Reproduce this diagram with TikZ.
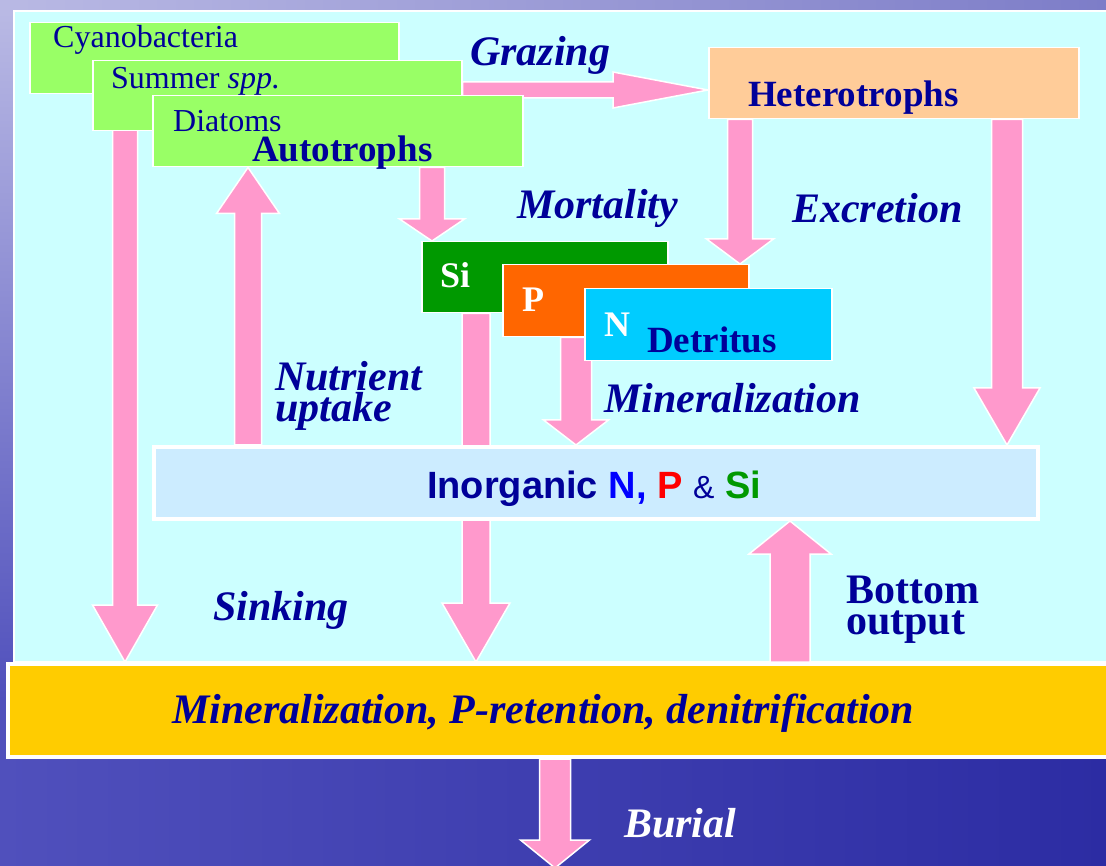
\documentclass[tikz,border=0pt]{standalone}
\usepackage{fontspec}
\setmainfont{Liberation Serif}
\newfontfamily\arialfont{Liberation Sans}
\usetikzlibrary{calc}
\usetikzlibrary{backgrounds}

\definecolor{navyblue}{RGB}{0,0,153}
\definecolor{arrowpink}{RGB}{255,153,204}
\definecolor{algaegreen}{RGB}{153,255,102}
\definecolor{heteroorange}{RGB}{255,204,153}
\definecolor{sigreen}{RGB}{0,153,0}
\definecolor{porange}{RGB}{255,102,0}
\definecolor{ncyan}{RGB}{0,204,255}
\definecolor{inorgblue}{RGB}{204,236,255}
\definecolor{watercyan}{RGB}{204,255,255}
\definecolor{sedyellow}{RGB}{255,204,0}
\definecolor{seadark}{RGB}{44,44,163}
\definecolor{sealight}{RGB}{80,80,188}
\definecolor{seapale}{RGB}{185,185,228}
\definecolor{seamist}{RGB}{125,125,200}

\pgfdeclarelayer{flowlayer}
\pgfsetlayers{background,flowlayer,main}

\tikzset{
  colbox/.style={draw=white, line width=1.5pt, inner sep=0pt, anchor=north west},
  boxtext/.style={text=navyblue, inner sep=0pt, anchor=base west, font=\fontsize{32}{36}\selectfont},
  boldtext/.style={boxtext, font=\fontsize{37}{40}\selectfont\bfseries},
  nutext/.style={boxtext, text=white, font=\fontsize{36}{40}\selectfont\bfseries},
  lbl/.style={boxtext, font=\fontsize{42}{44}\selectfont\bfseries\itshape},
  twoline/.style={align=left, font=\fontsize{42}{31}\selectfont\bfseries},
  flowarrow/.style={fill=arrowpink, draw=white, line width=1.5pt, line join=miter},
}

% block arrow: tail, tip, half shaft, half head, head length
\newcommand{\fatarrow}[5]{%
  \coordinate (fa-s) at (#1);%
  \coordinate (fa-e) at (#2);%
  \coordinate (fa-b) at ($(fa-e)!#5!(fa-s)$);%
  \filldraw[flowarrow] ($(fa-s)!#3!90:(fa-e)$) -- ($(fa-b)!#3!90:(fa-e)$)
    -- ($(fa-b)!#4!90:(fa-e)$) -- (fa-e) -- ($(fa-b)!#4!-90:(fa-e)$)
    -- ($(fa-b)!#3!-90:(fa-e)$) -- ($(fa-s)!#3!-90:(fa-e)$) -- cycle;%
}

\begin{document}
\setlength{\lineskiplimit}{-30pt}%
\begin{tikzpicture}[x=1pt,y=-1pt]%
    \useasboundingbox (0,0) rectangle (1106,866);%
    \clip (0,0) rectangle (1106,866);%
    \begin{scope}[on background layer]
        \shade[left color=sealight, right color=seadark] (0,0) rectangle (1106,866);%
        \shade[left color=seapale, right color=seamist] (0,0) rectangle (1106,12);%
        \shade[top color=seapale, bottom color=sealight] (0,12) rectangle (14,700);%
        \filldraw[fill=watercyan, draw=white, line width=2.5pt] (14,11) rectangle (1115,662);%
    \end{scope}
    % autotrophs
    \node[colbox, fill=algaegreen, minimum width=369, minimum height=71] (cyano) at (29,22) {};%
    \node[colbox, fill=algaegreen, minimum width=369, minimum height=70] (summer) at (92,60) {};%
    \node[colbox, fill=algaegreen, minimum width=370, minimum height=71] (diatom) at (152,95) {};%
    \node[boxtext] (cyanotext) at (53,48) {Cyanobacteria};%
    \node[boxtext] (summertext) at (111,89) {Summer \textit{spp.}};%
    \node[boxtext] (diatomtext) at (173,132) {Diatoms};%
    \node[boldtext] (autotext) at (252,162) {Autotrophs};%
    % heterotrophs
    \node[colbox, fill=heteroorange, minimum width=370, minimum height=71] (hetero) at (708,47) {};%
    \node[boldtext] (heterotext) at (748,107) {Heterotrophs};%
    % detritus
    \node[colbox, fill=sigreen, minimum width=246, minimum height=71] (si) at (421,241) {};%
    \node[colbox, fill=porange, minimum width=246, minimum height=72] (p) at (502,264) {};%
    \node[colbox, fill=ncyan, minimum width=247, minimum height=72] (n) at (584,288) {};%
    \node[nutext] (sitext) at (440,288) {Si};%
    \node[nutext] (ptext) at (522,312) {P};%
    \node[nutext] (ntext) at (604,337) {N};%
    \node[boldtext] (detritext) at (647,353) {Detritus};%
    % inorganic pool and sediment
    \node[colbox, fill=inorgblue, line width=4pt, minimum width=884, minimum height=72] (inorg) at (152,445) {};%
    \node[inner sep=0pt, anchor=base, text=navyblue, font=\arialfont\fontsize{38}{40}\selectfont\bfseries] (inorgtext) at (594,498)
        {Inorganic \textcolor{blue}{N,} \textcolor{red}{P} {\mdseries\fontsize{32}{36}\selectfont\&} \textcolor{sigreen}{Si}};%
    \node[colbox, fill=sedyellow, line width=4pt, minimum width=1110, minimum height=93] (sed) at (6,662) {};%
    % flow labels
    \node[lbl] (grazing) at (470,66) {Grazing};%
    \node[lbl] (mortality) at (517,219) {Mortality};%
    \node[lbl] (excretion) at (792,223) {Excretion};%
    \node[lbl, twoline, font=\fontsize{42}{31}\selectfont\bfseries\itshape] (uptake) at (275,421) {Nutrient\\uptake};%
    \node[lbl] (mineral) at (604,413) {Mineralization};%
    \node[lbl] (sinking) at (213,620) {Sinking};%
    \node[lbl, twoline] (bottom) at (846,634) {Bottom\\output};%
    \node[lbl] (sedtext) at (172,723) {Mineralization, P-retention, denitrification};%
    \node[lbl, text=white] (burial) at (624,837) {Burial};%
    % arrow columns
    \coordinate (grazrow) at (0,90);%
    \coordinate (sinkcol) at (125,0);%
    \coordinate (uptakecol) at (248,0);%
    \coordinate (mortcol) at (432,0);%
    \coordinate (sicol) at (476,0);%
    \coordinate (minercol) at (576,0);%
    \coordinate (excrcol) at (740,0);%
    \coordinate (outcol) at (790,0);%
    \coordinate (heterocol) at (1007,0);%
    \coordinate (burialend) at (555,868);%
    \begin{pgfonlayer}{flowlayer}
        \fatarrow{summer.east |- grazrow}{hetero.west |- grazrow}{8pt}{18pt}{95pt}%
        \fatarrow{cyano.south -| sinkcol}{sed.north -| sinkcol}{12.5pt}{32.5pt}{57pt}%
        \fatarrow{inorg.north -| uptakecol}{diatom.south -| uptakecol}{13.5pt}{31.5pt}{46pt}%
        \fatarrow{diatom.south -| mortcol}{si.north -| mortcol}{12.5pt}{32.5pt}{22pt}%
        \fatarrow{hetero.south -| excrcol}{p.north -| excrcol}{12.5pt}{33.5pt}{25pt}%
        \fatarrow{hetero.south -| heterocol}{inorg.north -| heterocol}{15.5pt}{33pt}{57pt}%
        \fatarrow{si.south -| sicol}{sed.north -| sicol}{14pt}{34pt}{59pt}%
        \fatarrow{p.south -| minercol}{inorg.north -| minercol}{15.5pt}{32.5pt}{25pt}%
        \fatarrow{sed.north -| outcol}{inorg.south -| outcol}{20pt}{41pt}{33pt}%
        \fatarrow{sed.south -| burialend}{burialend}{15.5pt}{34.5pt}{28pt}%
    \end{pgfonlayer}
\end{tikzpicture}
\end{document}
